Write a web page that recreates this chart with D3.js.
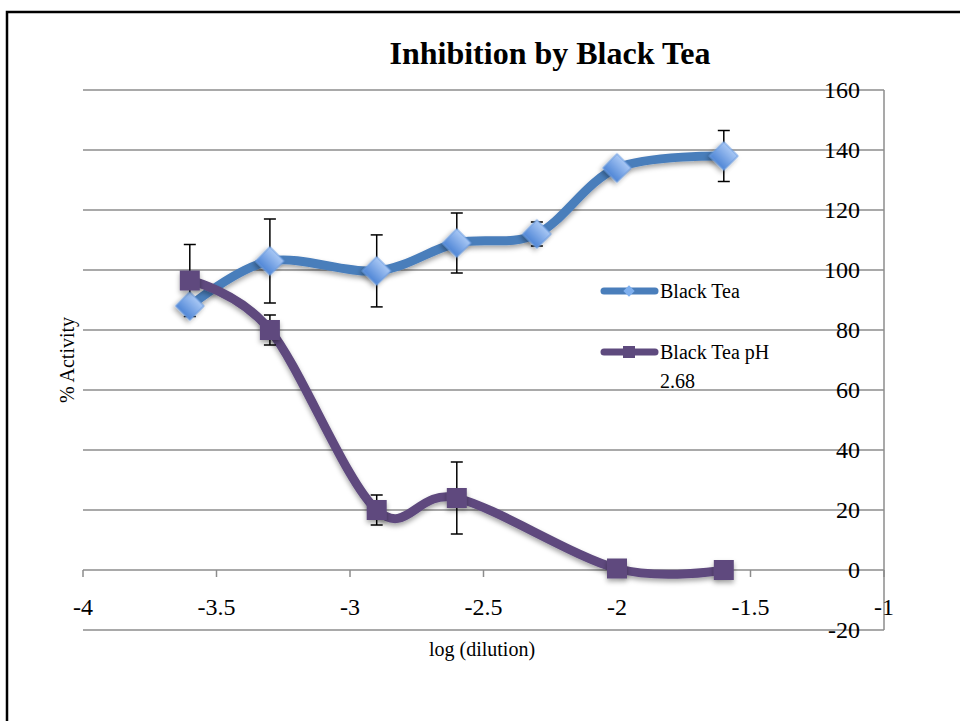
<!DOCTYPE html>
<html><head><meta charset="utf-8">
<script src="https://cdn.jsdelivr.net/npm/d3@7"></script>
<style>body{margin:0;background:#fff}svg{display:block}</style>
</head><body>
<script>
const teaX = [-3.6, -3.3, -2.9, -2.6, -2.3, -2.0, -1.6];
const teaY = [88, 103, 99.7, 109, 112, 134, 138];
const teaErr = [0, 14, 12, 10, 4, 0, 8.5];
const phX = [-3.6, -3.3, -2.9, -2.6, -2.0, -1.6];
const phY = [96.5, 80, 20, 24, 0.5, 0];
const phErr = [12, 5, 5, 12, 0, 0];
const xTicks = [-4, -3.5, -3, -2.5, -2, -1.5, -1];
const yTicks = [-20, 0, 20, 40, 60, 80, 100, 120, 140, 160];

const W = 960, H = 721;
const svg = d3.select("body").append("svg").attr("width", W).attr("height", H);
const serif = "'Liberation Serif','DejaVu Serif',serif";

// frame
svg.append("path").attr("d", "M7,721 L7,12 L960,12").attr("fill","none").attr("stroke","#000").attr("stroke-width",2.5);

const x = d3.scaleLinear().domain([-4, -1]).range([83, 884]);
const y = d3.scaleLinear().domain([-20, 160]).range([630, 90]);

// gridlines
svg.append("g").selectAll("line").data(yTicks).join("line")
  .attr("x1", x(-4)).attr("x2", x(-1)).attr("y1", d => y(d)).attr("y2", d => y(d))
  .attr("stroke", "#8c8c8c").attr("stroke-width", 1.5);
// right axis
svg.append("line").attr("x1", x(-1)).attr("x2", x(-1)).attr("y1", y(160)).attr("y2", y(-20))
  .attr("stroke", "#8c8c8c").attr("stroke-width", 1.5);
// x axis ticks at y=0
svg.append("g").selectAll("line").data(xTicks).join("line")
  .attr("x1", d => x(d)).attr("x2", d => x(d)).attr("y1", y(0)).attr("y2", y(0) + 7)
  .attr("stroke", "#8c8c8c").attr("stroke-width", 1.5);

// y labels
svg.append("g").selectAll("text").data(yTicks).join("text")
  .attr("x", 860).attr("y", d => y(d)).attr("dy", "0.35em").attr("text-anchor", "end")
  .attr("font-family", serif).attr("font-size", 24).attr("fill", "#000").text(d => d);
// x labels
svg.append("g").selectAll("text").data(xTicks).join("text")
  .attr("x", d => x(d)).attr("y", 615).attr("text-anchor", "middle")
  .attr("font-family", serif).attr("font-size", 24).attr("fill", "#000").text(d => d);

// titles
svg.append("text").attr("x", 550).attr("y", 64).attr("text-anchor", "middle")
  .attr("font-family", serif).attr("font-weight", "bold").attr("font-size", 32).text("Inhibition by Black Tea");
svg.append("text").attr("x", 482).attr("y", 656).attr("text-anchor", "middle")
  .attr("font-family", serif).attr("font-size", 20).text("log (dilution)");
svg.append("text").attr("transform", "translate(74,360) rotate(-90)").attr("text-anchor", "middle")
  .attr("font-family", serif).attr("font-size", 20).text("% Activity");

const defs = svg.append("defs");
const f = defs.append("filter").attr("id", "sh").attr("x", "-50%").attr("y", "-50%").attr("width", "200%").attr("height", "200%");
f.append("feDropShadow").attr("dx", 0).attr("dy", 3).attr("stdDeviation", 2.5).attr("flood-color", "#000").attr("flood-opacity", 0.35);
const g1 = defs.append("linearGradient").attr("id", "dg").attr("x1", 0).attr("y1", 0).attr("x2", 0).attr("y2", 1);
g1.append("stop").attr("offset", "0").attr("stop-color", "#a9c8f5");
g1.append("stop").attr("offset", "1").attr("stop-color", "#4f86d6");

const line = d3.line().x(d => x(d[0])).y(d => y(d[1])).curve(d3.curveCardinal.tension(0));
const blue = "#4a7ebb", purple = "#5e4a7e";

function drawSeries(xs, ys, errs, color) {
  const pts = xs.map((v, i) => [v, ys[i], errs[i]]);
  svg.append("path").datum(pts).attr("d", line).attr("fill", "none")
    .attr("stroke", color).attr("stroke-width", 9).attr("stroke-linecap", "round").attr("filter", "url(#sh)");
  return pts;
}
function drawErr(pts) {
  const g = svg.append("g").attr("stroke", "#000").attr("stroke-width", 1.5);
  pts.filter(p => p[2] > 0).forEach(p => {
    const cx = x(p[0]);
    g.append("line").attr("x1", cx).attr("x2", cx).attr("y1", y(p[1] + p[2])).attr("y2", y(p[1] - p[2]));
    [p[1] + p[2], p[1] - p[2]].forEach(v => g.append("line").attr("x1", cx - 6).attr("x2", cx + 6).attr("y1", y(v)).attr("y2", y(v)));
  });
}

const bp = drawSeries(teaX, teaY, teaErr, blue);
const pp = drawSeries(phX, phY, phErr, purple);
drawErr(bp);
drawErr(pp);

// markers
svg.append("g").selectAll("rect").data(bp).join("rect")
  .attr("x", -10).attr("y", -10).attr("width", 20).attr("height", 20)
  .attr("transform", d => `translate(${x(d[0])},${y(d[1])}) rotate(45)`)
  .attr("fill", "url(#dg)").attr("stroke", "#6b9be0").attr("stroke-width", 1).attr("filter", "url(#sh)");
svg.append("g").selectAll("rect").data(pp).join("rect")
  .attr("x", d => x(d[0]) - 10).attr("y", d => y(d[1]) - 10).attr("width", 20).attr("height", 20)
  .attr("fill", purple).attr("filter", "url(#sh)");

// legend
const leg = [
  {name: ["Black Tea"], color: blue, y: 291, marker: "diamond"},
  {name: ["Black Tea pH", "2.68"], color: purple, y: 352, marker: "square"}
];
leg.forEach(l => {
  svg.append("line").attr("x1", 604).attr("x2", 655).attr("y1", l.y).attr("y2", l.y)
    .attr("stroke", l.color).attr("stroke-width", 7).attr("stroke-linecap", "round");
  if (l.marker === "diamond") {
    svg.append("rect").attr("x", -4).attr("y", -4).attr("width", 8).attr("height", 8)
      .attr("transform", `translate(629,${l.y}) rotate(45)`).attr("fill", "#7fb0ef");
  } else {
    svg.append("rect").attr("x", 623).attr("y", l.y - 6).attr("width", 12).attr("height", 12).attr("fill", l.color);
  }
  l.name.forEach((t, i) => svg.append("text").attr("x", 660).attr("y", l.y + 7 + i * 29)
    .attr("font-family", serif).attr("font-size", 20).text(t));
});
</script>
</body></html>
